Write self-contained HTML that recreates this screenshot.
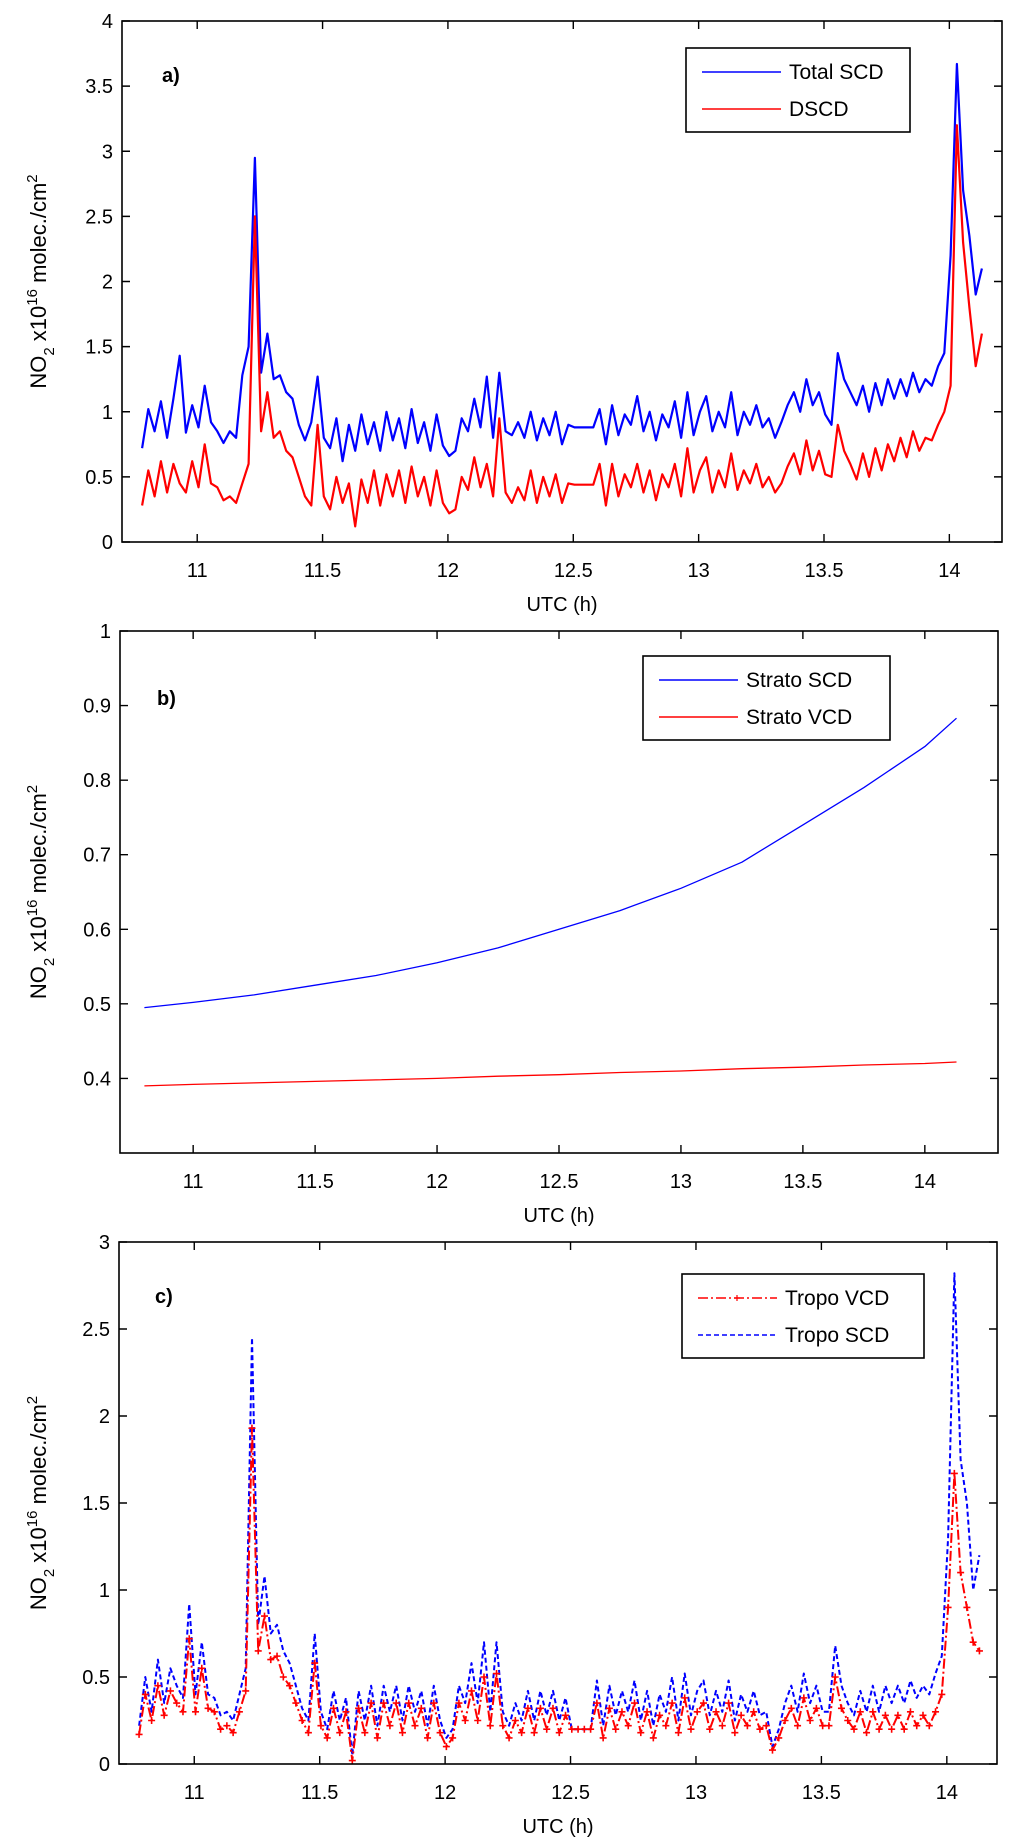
<!DOCTYPE html>
<html><head><meta charset="utf-8">
<style>
html,body{margin:0;padding:0;background:#fff;}
svg{display:block;font-family:"Liberation Sans",Arial,sans-serif;}
</style></head>
<body>
<svg id="fig" width="1024" height="1847" viewBox="0 0 1024 1847" xmlns="http://www.w3.org/2000/svg"></svg>
<script>
// ---------- DATA ----------
const tStart = 10.78;
const tStep = 0.025;
const totalScd = [0.72,1.02,0.85,1.08,0.8,1.1,1.43,0.84,1.05,0.88,
1.2,0.92,0.85,0.76,0.85,0.8,1.28,1.5,2.95,1.3,
1.6,1.25,1.28,1.15,1.1,0.9,0.78,0.92,1.27,0.8,
0.72,0.95,0.62,0.9,0.7,0.98,0.75,0.92,0.7,1.0,
0.78,0.95,0.72,1.02,0.76,0.92,0.7,0.98,0.74,0.66,
0.7,0.95,0.85,1.1,0.88,1.27,0.8,1.3,0.85,0.82,
0.92,0.8,1.0,0.78,0.95,0.82,1.0,0.75,0.9,0.88,
0.88,0.88,0.88,1.02,0.75,1.05,0.82,0.98,0.9,1.12,
0.85,1.0,0.78,0.98,0.88,1.08,0.8,1.15,0.82,1.0,
1.12,0.85,1.0,0.88,1.15,0.82,1.0,0.9,1.05,0.88,
0.95,0.8,0.92,1.05,1.15,1.0,1.25,1.05,1.15,0.98,
0.9,1.45,1.25,1.15,1.05,1.2,1.0,1.22,1.05,1.25,
1.1,1.25,1.12,1.3,1.15,1.25,1.2,1.35,1.45,2.2,
3.67,2.7,2.35,1.9,2.1];
const dscd = [0.28,0.55,0.35,0.62,0.38,0.6,0.45,0.38,0.62,0.42,
0.75,0.45,0.42,0.32,0.35,0.3,0.45,0.6,2.5,0.85,
1.15,0.8,0.85,0.7,0.65,0.5,0.35,0.28,0.9,0.35,
0.25,0.5,0.3,0.45,0.12,0.48,0.3,0.55,0.28,0.52,
0.35,0.55,0.3,0.58,0.35,0.5,0.28,0.55,0.3,0.22,
0.25,0.5,0.4,0.65,0.42,0.6,0.35,0.95,0.38,0.3,
0.42,0.32,0.55,0.3,0.5,0.35,0.52,0.3,0.45,0.44,
0.44,0.44,0.44,0.6,0.28,0.6,0.35,0.52,0.42,0.6,
0.38,0.55,0.32,0.52,0.42,0.6,0.35,0.72,0.38,0.55,
0.65,0.38,0.55,0.42,0.68,0.4,0.55,0.45,0.6,0.42,
0.5,0.38,0.45,0.58,0.68,0.52,0.78,0.55,0.7,0.52,
0.5,0.9,0.7,0.6,0.48,0.68,0.5,0.72,0.55,0.75,
0.62,0.8,0.65,0.85,0.7,0.8,0.78,0.9,1.0,1.2,
3.2,2.3,1.8,1.35,1.6];
const stratoTimes = [10.8,11,11.25,11.5,11.75,12,12.25,12.5,12.75,13,13.25,13.5,13.75,14,14.13];
const stratoScd = [0.495,0.502,0.512,0.525,0.538,0.555,0.575,0.6,0.625,0.655,0.69,0.74,0.79,0.845,0.883];
const stratoVcd = [0.39,0.392,0.394,0.396,0.398,0.4,0.403,0.405,0.408,0.41,0.413,0.415,0.418,0.42,0.422];
const tropoScd = [0.22,0.5,0.3,0.6,0.35,0.55,0.45,0.38,0.92,0.4,
0.7,0.4,0.38,0.28,0.3,0.25,0.4,0.55,2.45,0.8,
1.08,0.75,0.8,0.65,0.58,0.45,0.32,0.25,0.75,0.3,
0.2,0.42,0.25,0.38,0.05,0.42,0.25,0.45,0.22,0.45,
0.3,0.45,0.25,0.45,0.3,0.42,0.22,0.45,0.25,0.15,
0.2,0.45,0.35,0.58,0.35,0.7,0.3,0.7,0.3,0.22,
0.35,0.25,0.42,0.25,0.42,0.28,0.42,0.25,0.38,0.2,
0.2,0.2,0.2,0.48,0.22,0.45,0.28,0.42,0.3,0.48,
0.25,0.42,0.22,0.4,0.3,0.5,0.25,0.52,0.28,0.42,
0.48,0.28,0.42,0.3,0.48,0.25,0.4,0.3,0.42,0.28,
0.3,0.1,0.2,0.35,0.45,0.3,0.52,0.35,0.45,0.3,
0.3,0.68,0.45,0.35,0.28,0.42,0.3,0.45,0.3,0.45,
0.35,0.45,0.35,0.48,0.38,0.45,0.4,0.52,0.62,1.3,
2.82,1.75,1.5,1.0,1.2];
const tropoVcd = [0.17,0.4,0.25,0.45,0.28,0.42,0.35,0.3,0.72,0.3,
0.55,0.32,0.3,0.2,0.22,0.18,0.3,0.42,1.93,0.65,
0.85,0.6,0.62,0.5,0.45,0.35,0.25,0.18,0.58,0.22,
0.15,0.32,0.18,0.3,0.02,0.32,0.18,0.35,0.15,0.35,
0.22,0.35,0.18,0.35,0.22,0.32,0.15,0.35,0.18,0.1,
0.15,0.35,0.25,0.42,0.25,0.5,0.22,0.52,0.22,0.15,
0.25,0.18,0.32,0.18,0.32,0.2,0.32,0.18,0.28,0.2,
0.2,0.2,0.2,0.35,0.15,0.32,0.2,0.3,0.22,0.35,
0.18,0.3,0.15,0.28,0.22,0.35,0.18,0.38,0.2,0.3,
0.35,0.2,0.3,0.22,0.35,0.18,0.28,0.22,0.3,0.2,
0.22,0.08,0.15,0.25,0.32,0.22,0.38,0.25,0.32,0.22,
0.22,0.5,0.32,0.25,0.2,0.3,0.18,0.3,0.2,0.28,
0.2,0.28,0.2,0.3,0.22,0.28,0.22,0.3,0.4,0.9,
1.67,1.1,0.9,0.7,0.65];
const xTicks = [11,11.5,12,12.5,13,13.5,14];
const xTickLabels = ["11","11.5","12","12.5","13","13.5","14"];
const yTicksA = [0,0.5,1,1.5,2,2.5,3,3.5,4];
const yTickLabelsA = ["0","0.5","1","1.5","2","2.5","3","3.5","4"];
const yTicksB = [0.4,0.5,0.6,0.7,0.8,0.9,1];
const yTickLabelsB = ["0.4","0.5","0.6","0.7","0.8","0.9","1"];
const yTicksC = [0,0.5,1,1.5,2,2.5,3];
const yTickLabelsC = ["0","0.5","1","1.5","2","2.5","3"];

// ---------- DRAW ----------
const NS = "http://www.w3.org/2000/svg";
const svg = document.getElementById('fig');
function mk(tag, attrs, parent){
  const e = document.createElementNS(NS, tag);
  for (const k in attrs) e.setAttribute(k, attrs[k]);
  (parent||svg).appendChild(e);
  return e;
}
const gridTimes = totalScd.map((_, i) => tStart + i * tStep);

function panel(cfg){
  const g = mk('g', {});
  
  
  const sx = v => cfg.x0 + (v - cfg.xd[0]) / (cfg.xd[1] - cfg.xd[0]) * (cfg.x1 - cfg.x0);
  const sy = v => cfg.y1 - (v - cfg.yd[0]) / (cfg.yd[1] - cfg.yd[0]) * (cfg.y1 - cfg.y0);
  cfg.series.forEach(s => {
    const pts = s.x.map((t, i) => sx(t).toFixed(1) + ',' + sy(s.y[i]).toFixed(1)).join(' ');
    const pl = mk('polyline', {points: pts, fill: 'none', stroke: s.color, 'stroke-width': s.width || 1.3, 'stroke-dasharray': s.dash || 'none', 'stroke-linejoin': 'round'}, g);
    
    
    if (s.markers) {
      const mg = mk('g', {stroke: s.color, 'stroke-width': 1.6}, g);
      
      
      s.x.forEach((t, i) => {
        const X = sx(t), Y = sy(s.y[i]);
        mk('path', {d: `M${X-3.5},${Y}H${X+3.5}M${X},${Y-3.5}V${Y+3.5}`}, mg);
      });
    }
  });
  const box = mk('rect', {x: cfg.x0, y: cfg.y0, width: cfg.x1 - cfg.x0, height: cfg.y1 - cfg.y0, fill: 'none', stroke: '#000', 'stroke-width': 1.6}, g);
  
  
  xTicks.forEach((v, i) => {
    const X = sx(v);
    mk('path', {d: `M${X},${cfg.y1}V${cfg.y1-8}M${X},${cfg.y0}V${cfg.y0+8}`, stroke: '#000', 'stroke-width': 1.4}, g);
    const t = mk('text', {x: X, y: cfg.y1 + 35, 'font-size': 20, 'text-anchor': 'middle', fill: '#000'}, g);
    t.textContent = xTickLabels[i];
    
    
  });
  cfg.yt.forEach((v, i) => {
    const Y = sy(v);
    mk('path', {d: `M${cfg.x0},${Y}H${cfg.x0+8}M${cfg.x1},${Y}H${cfg.x1-8}`, stroke: '#000', 'stroke-width': 1.4}, g);
    const t = mk('text', {x: cfg.x0 - 9, y: Y + 7, 'font-size': 20, 'text-anchor': 'end', fill: '#000'}, g);
    t.textContent = cfg.ytl[i];
    
    
  });
  const xt = mk('text', {x: (cfg.x0 + cfg.x1) / 2, y: cfg.y1 + 69, 'font-size': 20, 'text-anchor': 'middle', fill: '#000'}, g);
  xt.textContent = 'UTC (h)';
  
  
  const cy = (cfg.y0 + cfg.y1) / 2;
  const yt = mk('text', {x: 0, y: 0, 'font-size': 22, 'text-anchor': 'middle', fill: '#000', transform: `translate(46,${cy}) rotate(-90)`}, g);
  yt.innerHTML = 'NO<tspan dy="8" font-size="15">2</tspan><tspan dy="-8"> x10</tspan><tspan dy="-9" font-size="15">16</tspan><tspan dy="9"> molec./cm</tspan><tspan dy="-9" font-size="15">2</tspan>';
  
  
  const pl = mk('text', {x: cfg.lab[0], y: cfg.lab[1], 'font-size': 20, 'font-weight': 'bold', fill: '#000'}, g);
  pl.textContent = cfg.label;
  
  
  const L = cfg.leg;
  const lg = mk('g', {}, g);
  
  
  mk('rect', {x: L.x, y: L.y, width: L.w, height: L.h, fill: '#fff', stroke: '#000', 'stroke-width': 1.6}, lg);
  cfg.series.forEach((s, i) => {
    const idx = L.order ? L.order[i] : i;
    const Y = L.y + 24 + idx * 37;
    const ln = mk('line', {x1: L.x + 16, x2: L.x + 95, y1: Y, y2: Y, stroke: s.color, 'stroke-width': 1.6, 'stroke-dasharray': s.dash || 'none'}, lg);
    
    
    if (s.markers) mk('path', {d: `M${L.x+52},${Y}H${L.x+58}M${L.x+55},${Y-3}V${Y+3}`, stroke: s.color, 'stroke-width': 1.2}, lg);
    const t = mk('text', {x: L.x + 103, y: Y + 7, 'font-size': 21, fill: '#000'}, lg);
    t.textContent = s.label;
    
    
  });
}

panel({name: 'panel-a', x0: 122, x1: 1002, y0: 21, y1: 542, xd: [10.7, 14.21], yd: [0, 4],
  yt: yTicksA, ytl: yTickLabelsA, label: 'a)', lab: [162, 82],
  leg: {x: 686, y: 48, w: 224, h: 84},
  series: [
    {name: 'total-scd-line', label: 'Total SCD', x: gridTimes, y: totalScd, color: '#0000ff', width: 2.2},
    {name: 'dscd-line', label: 'DSCD', x: gridTimes, y: dscd, color: '#ff0000', width: 2.2}
  ]});
panel({name: 'panel-b', x0: 120, x1: 998, y0: 631, y1: 1153, xd: [10.7, 14.3], yd: [0.3, 1],
  yt: yTicksB, ytl: yTickLabelsB, label: 'b)', lab: [157, 705],
  leg: {x: 643, y: 656, w: 247, h: 84},
  series: [
    {name: 'strato-scd-line', label: 'Strato SCD', x: stratoTimes, y: stratoScd, color: '#0000ff'},
    {name: 'strato-vcd-line', label: 'Strato VCD', x: stratoTimes, y: stratoVcd, color: '#ff0000'}
  ]});
panel({name: 'panel-c', x0: 119, x1: 997, y0: 1242, y1: 1764, xd: [10.7, 14.2], yd: [0, 3],
  yt: yTicksC, ytl: yTickLabelsC, label: 'c)', lab: [155, 1303],
  leg: {x: 682, y: 1274, w: 242, h: 84, order: [1, 0]},
  series: [
    {name: 'tropo-scd-line', label: 'Tropo SCD', x: gridTimes, y: tropoScd, color: '#0000ff', dash: '5,3', width: 2},
    {name: 'tropo-vcd-line', label: 'Tropo VCD', x: gridTimes, y: tropoVcd, color: '#ff0000', dash: '10,3,2,3', markers: true, width: 2}
  ]});
</script>
</body></html>
